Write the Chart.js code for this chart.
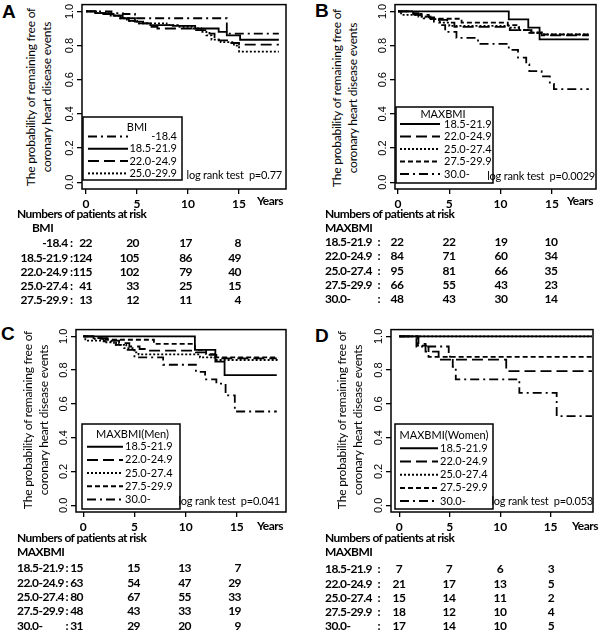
<!DOCTYPE html>
<html lang="en">
<head>
<meta charset="UTF-8" />
<title>Coronary heart disease free survival by BMI</title>
<script src="https://cdn.jsdelivr.net/npm/chart.js"></script>
<style>
  body { margin: 0; background: #fff; }
  #page { position: relative; width: 600px; height: 632px; overflow: hidden; font-family: Lato, "Liberation Sans", sans-serif; color: #000; }
  canvas { position: absolute; }
  .txt { position: absolute; white-space: pre; line-height: 1; }
  .letter { font: bold 19px "Liberation Sans", Arial, sans-serif; }
  .risk { font-weight: bold; font-size: 12px; letter-spacing: -0.55px; }
  .lr { font-size: 11px; letter-spacing: -0.2px; }
  .ytitle { position: absolute; text-align: center; font-size: 12px; line-height: 16px; white-space: nowrap; letter-spacing: -0.2px; }
</style>
</head>
<body>
<div id="page"></div>
<script>
  // axis ticks
  const xTicks = [0, 5, 10, 15];
  const yTicks = [0, 0.2, 0.4, 0.6, 0.8, 1.0];

  // group labels
  const legendLabelsA = ["-18.4", "18.5-21.9", "22.0-24.9", "25.0-29.9"];
  const riskLabelsA = ["-18.4", "18.5-21.9", "22.0-24.9", "25.0-27.4", "27.5-29.9"];
  const maxbmiLabels = ["18.5-21.9", "22.0-24.9", "25.0-27.4", "27.5-29.9", "30.0-"];

  // Kaplan-Meier curves: [years, probability]
  // A: BMI
  const kmA1 = [[0,1],[2.5,0.99],[3.6,0.985],[4.8,0.96],[13.8,0.87],[18.9,0.87]];
  const kmA2 = [[0,1],[0.9,0.99],[1.7,0.985],[2.7,0.975],[3.6,0.96],[4.8,0.94],[5.6,0.93],[6.3,0.92],[8.5,0.915],[10.7,0.9],[13.0,0.88],[13.8,0.86],[15.1,0.834],[18.9,0.834]];
  const kmA3 = [[0,1],[1.5,0.99],[2.5,0.975],[3.4,0.96],[4.2,0.945],[5.0,0.93],[6.3,0.91],[7.0,0.9],[10.5,0.89],[12.1,0.87],[12.6,0.85],[13.0,0.83],[14.0,0.815],[15.0,0.805],[18.9,0.805]];
  const kmA4 = [[0,1],[1.0,0.99],[2.2,0.975],[3.2,0.96],[4.0,0.945],[5.0,0.93],[7.9,0.92],[9.0,0.91],[10.5,0.9],[11.3,0.88],[11.8,0.86],[12.3,0.835],[13.2,0.82],[14.5,0.8],[15.0,0.765],[18.9,0.765]];
  // B: MAXBMI
  const kmB1 = [[0,1],[10.8,0.954],[12.7,0.905],[13.8,0.836],[18.6,0.836]];
  const kmB2 = [[0,1],[1.2,0.99],[2.0,0.98],[3.0,0.965],[4.0,0.95],[4.8,0.935],[5.5,0.91],[10.9,0.89],[13.0,0.875],[14.0,0.86],[18.6,0.86]];
  const kmB3 = [[0,1],[0.3,0.98],[2.0,0.97],[3.2,0.955],[4.0,0.935],[5.0,0.915],[10.8,0.905],[11.8,0.89],[13.0,0.875],[14.0,0.865],[18.6,0.865]];
  const kmB4 = [[0,1],[1.5,0.985],[2.3,0.97],[3.3,0.957],[6.2,0.935],[10.7,0.92],[11.8,0.89],[12.8,0.875],[14.0,0.865],[18.6,0.865]];
  const kmB5 = [[0,1],[1.5,0.98],[2.5,0.96],[3.5,0.94],[4.3,0.92],[4.6,0.88],[5.7,0.845],[7.8,0.81],[10.8,0.775],[11.7,0.73],[12.5,0.69],[12.8,0.65],[14.0,0.62],[14.8,0.575],[15.2,0.545],[18.6,0.545]];
  // C: MAXBMI (Men)
  const kmC1 = [[0,1],[10.9,0.92],[12.9,0.85],[13.8,0.77],[18.9,0.77]];
  const kmC2 = [[0,1],[1.3,0.99],[2.5,0.975],[3.5,0.96],[4.5,0.94],[5.5,0.925],[6.4,0.916],[11.0,0.905],[12.0,0.89],[13.0,0.87],[18.9,0.87]];
  const kmC3 = [[0,1],[0.2,0.975],[2.0,0.965],[3.0,0.95],[4.0,0.93],[5.0,0.905],[5.4,0.893],[11.4,0.875],[13.0,0.86],[18.9,0.855]];
  const kmC4 = [[0,1],[1.0,0.99],[2.2,0.98],[6.9,0.955],[10.9,0.92],[12.0,0.895],[12.8,0.875],[18.9,0.87]];
  const kmC5 = [[0,1],[1.0,0.985],[2.0,0.97],[3.2,0.95],[4.2,0.92],[5.0,0.875],[7.8,0.832],[11.0,0.79],[11.9,0.745],[13.0,0.72],[13.9,0.65],[14.8,0.555],[18.9,0.555]];
  // D: MAXBMI (Women)
  const kmD1 = [[0,1],[19.1,1]];
  const kmD2 = [[0,1],[1.9,0.955],[2.6,0.91],[3.9,0.862],[10.6,0.794],[19.1,0.794]];
  const kmD3 = [[0,1],[19.1,1]];
  const kmD4 = [[0,1],[1.8,0.945],[2.9,0.878],[19.1,0.878]];
  const kmD5 = [[0,1],[1.7,0.94],[4.9,0.88],[5.3,0.82],[5.6,0.745],[11.9,0.665],[15.6,0.528],[19.1,0.528]];

  // numbers at risk at 0, 5, 10, 15 years
  const riskA = [[22,20,17,8],[124,105,86,49],[115,102,79,40],[41,33,25,15],[13,12,11,4]];
  const riskB = [[22,22,19,10],[84,71,60,34],[95,81,66,35],[66,55,43,23],[48,43,30,14]];
  const riskC = [[15,15,13,7],[63,54,47,29],[80,67,55,33],[48,43,33,19],[31,29,20,9]];
  const riskD = [[7,7,6,3],[21,17,13,5],[15,14,11,2],[18,12,10,4],[17,14,10,5]];

  // line styles
  const SOLID = [], LONG = [11, 5], DOT = [2, 2], SHORT = [5, 3], DASHDOT = [9, 4, 2, 4];

  const AXW = 26, AXH = 22, PADT = 3, PADR = 3;
  const page = document.getElementById("page");

  function put(text, x, y, cls, align) {
    const d = document.createElement("div");
    d.className = "txt " + (cls || "");
    d.textContent = text;
    d.style.left = x + "px";
    d.style.top = y + "px";
    const tx = align === "right" ? "-100%" : align === "center" ? "-50%" : "0";
    d.style.transform = `translate(${tx}, -50%)`;
    page.appendChild(d);
  }

  function yTitle(cx, cy) {
    const d = document.createElement("div");
    d.className = "ytitle";
    d.innerHTML = "The probability of remaining free of<br>coronary heart disease events";
    d.style.left = cx + "px";
    d.style.top = cy + "px";
    d.style.transform = "translate(-50%, -50%) rotate(-90deg)";
    page.appendChild(d);
  }

  const frame = {
    id: "frame",
    afterDatasetsDraw(chart) {
      const { ctx, chartArea: a } = chart;
      ctx.save();
      ctx.lineWidth = 1.5;
      ctx.strokeStyle = "#000";
      ctx.strokeRect(a.left, a.top, a.right - a.left, a.bottom - a.top);
      ctx.restore();
    },
  };

  const kmLegend = {
    id: "kmLegend",
    afterDatasetsDraw(chart, args, o) {
      const ctx = chart.ctx;
      const x = o.x - o.ox, y = o.y - o.oy;
      ctx.save();
      ctx.fillStyle = "#fff";
      ctx.fillRect(x, y, o.w, o.h);
      ctx.lineWidth = 1.5;
      ctx.strokeStyle = "#000";
      ctx.strokeRect(x, y, o.w, o.h);
      ctx.fillStyle = "#000";
      ctx.font = "11px Lato";
      ctx.textBaseline = "middle";
      ctx.textAlign = "center";
      ctx.fillText(o.title, o.titleX - o.ox, o.titleY - o.oy);
      chart.data.datasets.forEach((ds, i) => {
        const yy = o.rowY - o.oy + i * o.rowH;
        ctx.lineWidth = 2;
        ctx.setLineDash(ds.borderDash);
        ctx.beginPath();
        ctx.moveTo(o.lineX0 - o.ox, yy);
        ctx.lineTo(o.lineX1 - o.ox, yy);
        ctx.stroke();
        ctx.setLineDash([]);
        ctx.textAlign = o.align;
        ctx.fillText(ds.label, o.textX - o.ox, yy);
      });
      ctx.restore();
    },
  };

  function makePanel(p) {
    const ox = p.box.l - AXW, oy = p.box.t - PADT;
    const cv = document.createElement("canvas");
    cv.width = p.box.r - p.box.l + AXW + PADR;
    cv.height = p.box.b - p.box.t + PADT + AXH;
    cv.style.left = ox + "px";
    cv.style.top = oy + "px";
    page.appendChild(cv);

    const gridOpts = { drawOnChartArea: false, drawTicks: true, tickLength: 5, color: "#000", lineWidth: 1.3 };
    new Chart(cv, {
      type: "line",
      data: {
        datasets: p.curves.map((pts, i) => ({
          label: p.labels[i],
          data: pts.map(([x, y]) => ({ x, y })),
          borderDash: p.dashes[i],
          stepped: true,
          borderColor: "#000",
          borderWidth: 1.8,
          pointRadius: 0,
          fill: false,
        })),
      },
      options: {
        responsive: false,
        animation: false,
        layout: { padding: { top: PADT, right: PADR, left: 0, bottom: 0 } },
        plugins: {
          legend: { display: false },
          tooltip: { enabled: false },
          kmLegend: Object.assign({ ox, oy }, p.legend),
        },
        scales: {
          x: {
            type: "linear",
            min: p.xMin,
            max: p.xMax,
            afterBuildTicks: (s) => { s.ticks = xTicks.map((v) => ({ value: v })); },
            afterFit: (s) => { s.height = AXH; },
            grid: gridOpts,
            border: { display: false },
            ticks: { color: "#000", font: { family: "Lato", size: 12, weight: "bold" }, padding: 3, maxRotation: 0, autoSkip: false },
          },
          y: {
            min: -0.04,
            max: 1.04,
            afterBuildTicks: (s) => { s.ticks = yTicks.map((v) => ({ value: v })); },
            afterFit: (s) => { s.width = AXW; },
            grid: gridOpts,
            border: { display: false },
            ticks: {
              color: "#000",
              font: { family: "Liberation Sans", size: 11 },
              minRotation: 90,
              maxRotation: 90,
              crossAlign: "center",
              padding: -1,
              callback: (v) => Number(v).toFixed(1),
            },
          },
        },
      },
      plugins: [frame, kmLegend],
    });

    put(p.letter, p.letterX, p.letterY, "letter");
    yTitle(p.titleX, p.titleY);
    put(p.logrank, p.lrX, p.lrY, "lr", "right");
  }

  function riskTable(t) {
    put("Years", t.yearsX, t.yearsY, "risk");
    put("Numbers of patients at risk", t.left, t.headY, "risk");
    put(t.group, t.groupX, t.headY + 13.5, "risk");
    t.rows.forEach((row, i) => {
      const y = t.rowY + i * t.rowH;
      if (t.colonX) {
        put(t.names[i], t.left, y, "risk");
        put(":", t.colonX, y, "risk", "right");
      } else {
        put(t.names[i] + " :", t.nameR, y, "risk", "right");
      }
      row.forEach((n, j) => put(String(n), t.cols[j], y, "risk", t.numAlign));
    });
  }

  makePanel({
    box: { l: 82, r: 286, t: 2, b: 189 }, xMin: -0.39, xMax: 19.6,
    curves: [kmA1, kmA2, kmA3, kmA4], labels: legendLabelsA, dashes: [DASHDOT, SOLID, LONG, DOT],
    legend: { x: 83, y: 117, w: 99, h: 63, title: "BMI", titleX: 137, titleY: 127, rowY: 136.5, rowH: 12.3, lineX0: 88, lineX1: 128, textX: 177, align: "right" },
    letter: "A", letterX: 2, letterY: 12, titleX: 38.5, titleY: 97, logrank: "log rank test  p=0.77", lrX: 282, lrY: 174,
  });
  makePanel({
    box: { l: 395, r: 596, t: 2, b: 189 }, xMin: -0.29, xMax: 19.3,
    curves: [kmB1, kmB2, kmB3, kmB4, kmB5], labels: maxbmiLabels, dashes: [SOLID, LONG, DOT, SHORT, DASHDOT],
    legend: { x: 396, y: 107, w: 97, h: 76, title: "MAXBMI", titleX: 443, titleY: 114.5, rowY: 124, rowH: 12.5, lineX0: 400, lineX1: 440, textX: 444, align: "left" },
    letter: "B", letterX: 315, letterY: 11, titleX: 345, titleY: 98, logrank: "log rank test  p=0.0029", lrX: 595, lrY: 175,
  });
  makePanel({
    box: { l: 76, r: 286, t: 327, b: 512 }, xMin: -0.71, xMax: 19.8,
    curves: [kmC1, kmC2, kmC3, kmC4, kmC5], labels: maxbmiLabels, dashes: [SOLID, LONG, DOT, SHORT, DASHDOT],
    legend: { x: 82, y: 424, w: 98, h: 85, title: "MAXBMI(Men)", titleX: 132.5, titleY: 434, rowY: 446.7, rowH: 13.2, lineX0: 87, lineX1: 123, textX: 125, align: "left" },
    letter: "C", letterX: 1, letterY: 334, titleX: 35.5, titleY: 420, logrank: "log rank test  p=0.041", lrX: 280, lrY: 500,
  });
  makePanel({
    box: { l: 391, r: 593, t: 327, b: 512 }, xMin: -0.82, xMax: 19.2,
    curves: [kmD1, kmD2, kmD3, kmD4, kmD5], labels: maxbmiLabels, dashes: [SOLID, LONG, DOT, SHORT, DASHDOT],
    legend: { x: 395, y: 424, w: 98, h: 85, title: "MAXBMI(Women)", titleX: 444, titleY: 435, rowY: 448.3, rowH: 13.2, lineX0: 400, lineX1: 438, textX: 440, align: "left" },
    letter: "D", letterX: 315, letterY: 336, titleX: 349.5, titleY: 420, logrank: "log rank test  p=0.053", lrX: 593, lrY: 500,
  });

  riskTable({ yearsX: 257, yearsY: 201, left: 17, headY: 214, group: "BMI", groupX: 32, rowY: 243.3, rowH: 14.2,
    names: riskLabelsA, nameR: 72.5, rows: riskA, cols: [92, 139, 192, 241], numAlign: "right" });
  riskTable({ yearsX: 567, yearsY: 201, left: 325, headY: 214, group: "MAXBMI", groupX: 325, rowY: 242, rowH: 14.3,
    names: maxbmiLabels, colonX: 380, rows: riskB, cols: [397, 449, 501, 551], numAlign: "center" });
  riskTable({ yearsX: 257, yearsY: 526, left: 17, headY: 538, group: "MAXBMI", groupX: 17, rowY: 568.3, rowH: 14.35,
    names: maxbmiLabels, colonX: 68, rows: riskC, cols: [83, 140, 191, 241], numAlign: "right" });
  riskTable({ yearsX: 572, yearsY: 526, left: 325, headY: 538, group: "MAXBMI", groupX: 325, rowY: 569.3, rowH: 14.2,
    names: maxbmiLabels, colonX: 380, rows: riskD, cols: [399, 449, 500, 551], numAlign: "center" });
</script>
</body>
</html>
